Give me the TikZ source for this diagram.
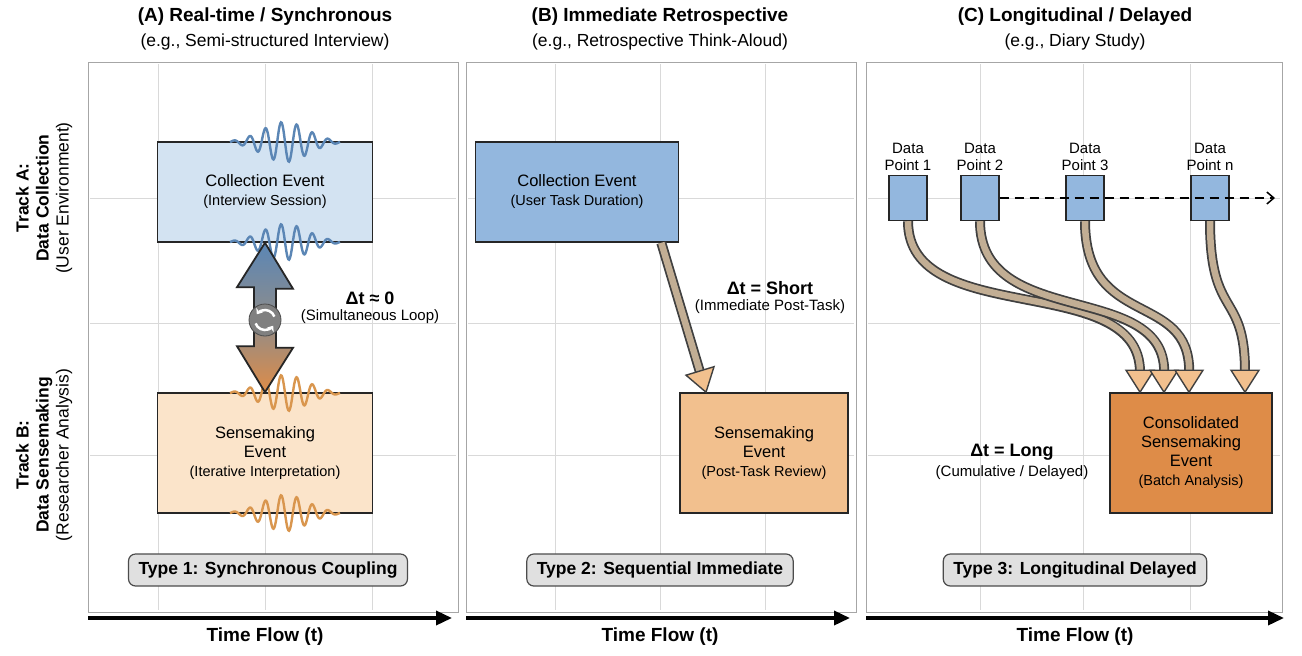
\documentclass[tikz,border=0pt]{standalone}
\usepackage{fontspec}
\setmainfont{Liberation Sans}
\usetikzlibrary{arrows.meta,positioning,shapes}
\definecolor{lblue}{HTML}{D3E3F2}
\definecolor{mblue}{HTML}{93B7DE}
\definecolor{wblue}{HTML}{5B86B5}
\definecolor{lorange}{HTML}{FBE4CA}
\definecolor{morange}{HTML}{F2C08E}
\definecolor{dorange}{HTML}{DE8C48}
\definecolor{worange}{HTML}{D9964E}
\definecolor{tube}{HTML}{C2AE94}
\newcommand{\subfont}{\fontsize{14.5}{17}\selectfont}
\tikzset{
  panel/.style = {draw=black!35, fill=white, line width=0.8pt},
  grid/.style = {draw=black!15, line width=1pt},
  event/.style = {draw=black!85, line width=1.6pt, align=center, font=\fontsize{16.5}{19}\selectfont, inner sep=0pt},
  title/.style = {font=\fontsize{19}{22}\selectfont\bfseries},
  sub/.style = {font=\fontsize{17.5}{20}\selectfont},
  note/.style = {font=\fontsize{15}{17}\selectfont, align=center},
  dt/.style = {font=\fontsize{18}{21}\selectfont\bfseries},
  typebox/.style = {draw=black!70, fill=black!12, rounded corners=7pt, line width=1.2pt,
    font=\fontsize{17.5}{20}\selectfont\bfseries, minimum height=32pt, inner xsep=10pt},
  axis/.style = {line width=3.5pt, -{Triangle[width=14pt,length=16pt]}},
  track/.style = {rotate=90, align=center, font=\fontsize{17.5}{20}\selectfont},
  point/.style = {draw=black!85, fill=mblue, line width=1.4pt, minimum width=38pt, minimum height=45pt},
  wave/.style = {line width=2.4pt, smooth, samples=150, domain=-55:55}
}
\newcommand{\tubearrow}[1]{% path of the tube
  \draw[line width=10pt, black!75, shorten >=20pt] #1;
  \draw[line width=6.5pt, tube, shorten >=20.5pt] #1;
}
\begin{document}
\begin{tikzpicture}[x=1pt, y=-1pt]
\useasboundingbox (0,0) rectangle (1302,656);
\fill[white] (0,0) rectangle (1302,656);
% panels and grid
\draw[panel] (88,62) rectangle (458,612);
\draw[panel] (466,62) rectangle (856,612);
\draw[panel] (866,62) rectangle (1282,612);
\foreach \y in {198,323,455} {
  \draw[grid] (90,\y) -- (456,\y);
  \draw[grid] (468,\y) -- (854,\y);
  \draw[grid] (868,\y) -- (1280,\y);
}
\foreach \x in {158,265,372,555,660,765,980,1083,1190}
  \draw[grid] (\x,64) -- (\x,610);
% titles
\node[title] (tA) at (265,17) {(A) Real-time / Synchronous};
\node[sub, below=1pt of tA] {(e.g., Semi-structured Interview)};
\node[title] (tB) at (660,17) {(B) Immediate Retrospective};
\node[sub, below=1pt of tB] {(e.g., Retrospective Think-Aloud)};
\node[title] (tC) at (1075,17) {(C) Longitudinal / Delayed};
\node[sub, below=1pt of tC] {(e.g., Diary Study)};
% track labels
\node[track] (trA) at (44,198) {\textbf{Track A:}\\\textbf{Data Collection}\\(User Environment)};
\node[track] (trB) at (44,455) {\textbf{Track B:}\\\textbf{Data Sensemaking}\\(Researcher Analysis)};
% panel A
\node[event, fill=lblue, minimum width=215pt, minimum height=100pt] (cA) at (265,192) {Collection Event\\{\subfont(Interview Session)}};
\node[event, fill=lorange, minimum width=215pt, minimum height=120pt] (sA) at (265,453) {Sensemaking\\Event\\{\subfont(Iterative Interpretation)}};
\draw[wave, wblue] plot ({285+\x}, {142+20*exp(-(\x/32)^2)*sin(\x*23)});
\draw[wave, wblue] plot ({285+\x}, {242+18*exp(-(\x/32)^2)*sin(\x*23)});
\draw[wave, worange] plot ({285+\x}, {393+18*exp(-(\x/32)^2)*sin(\x*23)});
\draw[wave, worange] plot ({285+\x}, {513+18*exp(-(\x/32)^2)*sin(\x*23)});
\shade[top color=wblue, bottom color=dorange, middle color=black!45, draw=black!85, line width=1.8pt]
  (cA.south) -- ++(28,46) -- ++(-17,0) -- ++(0,59) -- ++(17,0) -- (sA.north)
  -- ++(-28,-46) -- ++(17,0) -- ++(0,-59) -- ++(-17,0) -- cycle;
\node[circle, fill=black!50, draw=black!70, line width=0.8pt, minimum size=32pt] (loop) at (265,320) {};
\draw[white, line width=2.5pt, -{Stealth[length=5pt,width=8pt]}] (loop.center) ++(160:10) arc (160:35:10);
\draw[white, line width=2.5pt, -{Stealth[length=5pt,width=8pt]}] (loop.center) ++(-20:10) arc (-20:-145:10);
\node[dt] (dtA) at (370,298) {Δt ≈ 0};
\node[note, below=-2pt of dtA] {(Simultaneous Loop)};
\node[typebox] (tyA) at (268,570) {Type 1: Synchronous Coupling};
% panel B
\node[event, fill=mblue, minimum width=203pt, minimum height=100pt] (cB) at (577,192) {Collection Event\\{\subfont(User Task Duration)}};
\node[event, fill=morange, minimum width=168pt, minimum height=120pt] (sB) at (764,453) {Sensemaking\\Event\\{\subfont(Post-Task Review)}};
\coordinate (bS) at ([xshift=-18pt]cB.south east);
\coordinate (bE) at ([xshift=-58pt]sB.north);
\tubearrow{(bS) -- (bE)}
\draw[line width=1.4pt, draw=black!75, fill=morange] (bE) -- ++(-20,-17) -- ++(28,-8.5) -- cycle;
\node[dt] (dtB) at (770,288) {Δt = Short};
\node[note, below=-2pt of dtB] {(Immediate Post-Task)};
\node[typebox] (tyB) at (660,570) {Type 2: Sequential Immediate};
% panel C
\node[point] (p1) at (908,198) {};
\node[point] (p2) at (980,198) {};
\node[point] (p3) at (1085,198) {};
\node[point] (pn) at (1210,198) {};
\foreach \p/\t in {p1/1,p2/2,p3/3,pn/n}
  \node[note, above=1pt of \p] {Data\\Point \t};
\draw[line width=1.5pt, dashed, dash pattern=on 9pt off 6pt, -{Straight Barb[length=7pt,width=12pt]}] (p2.east) -- (1275,198);
\node[event, fill=dorange, minimum width=162pt, minimum height=120pt] (sC) at (1191,453) {Consolidated\\Sensemaking\\Event\\{\subfont(Batch Analysis)}};
\coordinate (e1) at ([xshift=-51pt]sC.north);
\coordinate (e2) at ([xshift=-27pt]sC.north);
\coordinate (e3) at ([xshift=-2pt]sC.north);
\coordinate (en) at ([xshift=54pt]sC.north);
\tubearrow{(p1.south) .. controls (908,330) and (1140,270) .. (e1)}
\tubearrow{(p2.south) .. controls (980,330) and (1165,280) .. (e2)}
\tubearrow{(p3.south) .. controls (1085,330) and (1190,290) .. (e3)}
\tubearrow{(pn.south) .. controls (1210,320) and (1245,290) .. (en)}
\foreach \e in {e1,e2,e3,en}
  \draw[line width=1.4pt, draw=black!75, fill=morange] (\e) -- ++(-14,-22) -- ++(28,0) -- cycle;
\node[dt] (dtC) at (1012,452) {Δt = Long};
\node[note, below=-2pt of dtC] {(Cumulative / Delayed)};
\node[typebox] (tyC) at (1075,570) {Type 3: Longitudinal Delayed};
% time axes
\coordinate (a0) at (88,618); \coordinate (a1) at (452,618);
\coordinate (b0) at (466,618); \coordinate (b1) at (850,618);
\coordinate (c0) at (866,618); \coordinate (c1) at (1284,618);
\draw[axis] (a0) -- (a1);
\draw[axis] (b0) -- (b1);
\draw[axis] (c0) -- (c1);
\node[title] at (265,637) {Time Flow (t)};
\node[title] at (660,637) {Time Flow (t)};
\node[title] at (1075,637) {Time Flow (t)};
\end{tikzpicture}
\end{document}
